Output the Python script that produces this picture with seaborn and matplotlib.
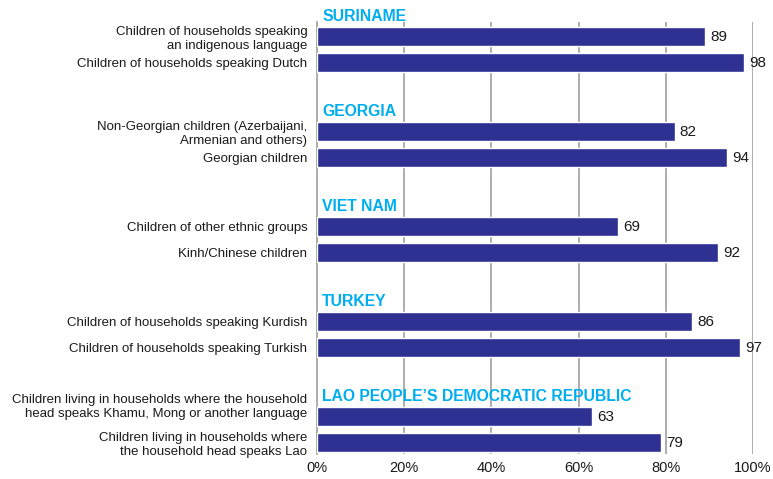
import matplotlib
matplotlib.use("Agg")
import matplotlib.pyplot as plt
import matplotlib.transforms as mtransforms
import pandas as pd
import seaborn as sns

# Countries (group headings) and the two population groups within each
countries = [
    "SURINAME",
    "GEORGIA",
    "VIET NAM",
    "TURKEY",
    "LAO PEOPLE\u2019S DEMOCRATIC REPUBLIC",
]
groups = [
    ["Children of households speaking\nan indigenous language",
     "Children of households speaking Dutch"],
    ["Non-Georgian children (Azerbaijani,\nArmenian and others)",
     "Georgian children"],
    ["Children of other ethnic groups",
     "Kinh/Chinese children"],
    ["Children of households speaking Kurdish",
     "Children of households speaking Turkish"],
    ["Children living in households where the household\nhead speaks Khamu, Mong or another language",
     "Children living in households where\nthe household head speaks Lao"],
]
values = [
    [89, 98],
    [82, 94],
    [69, 92],
    [86, 97],
    [63, 79],
]
x_ticks = [0, 20, 40, 60, 80, 100]
x_tick_labels = ["0%", "20%", "40%", "60%", "80%", "100%"]

BAR_COLOR = "#2e3192"
HEAD_COLOR = "#00aeef"
GRID_COLOR = "#a6a6a6"
TEXT_COLOR = "#1a1a1a"
GROUP_STEP = 3.654  # distance between the first bars of consecutive countries

# Build a long table with a numeric row position per bar
rows = []
for gi, (country, labs, vals) in enumerate(zip(countries, groups, values)):
    for bi, (lab, v) in enumerate(zip(labs, vals)):
        rows.append({"country": country, "label": lab, "value": v,
                     "pos": gi * GROUP_STEP + bi})
df = pd.DataFrame(rows)

sns.set_theme(style="white")
plt.rcParams["font.family"] = ["Liberation Sans", "DejaVu Sans"]

fig = plt.figure(figsize=(7.73, 4.79), dpi=100)
ax = fig.add_axes([317 / 773, 1 - 454 / 479, (753 - 317) / 773, (454 - 22) / 479])

sns.barplot(data=df, x="value", y="pos", orient="h", native_scale=True,
            color=BAR_COLOR, saturation=1, width=0.73, ax=ax, zorder=3)

ax.set_xlim(0, 100)
ax.set_ylim(df["pos"].max() + 0.44, df["pos"].min() - 0.56)

# Row labels
ax.set_yticks(df["pos"])
ax.set_yticklabels(df["label"], fontsize=9.55, color=TEXT_COLOR,
                   linespacing=1.25, ha="right")
ax.tick_params(axis="y", length=0, pad=7)

# The long two-line label beside the tall heading sits a little higher
for tl in ax.get_yticklabels():
    if tl.get_text().startswith("Children living in households where the household"):
        tl.set_transform(tl.get_transform() +
                         mtransforms.ScaledTranslation(0, 12 / 100, fig.dpi_scale_trans))

ax.set_xticks(x_ticks)
ax.set_xticklabels(x_tick_labels, fontsize=10.5, color=TEXT_COLOR)
ax.tick_params(axis="x", length=0, pad=5)
ax.set_xlabel("")
ax.set_ylabel("")

# Vertical gridlines and frame
ax.grid(False)
for t in x_ticks[1:]:
    ax.axvline(t, color=GRID_COLOR, lw=1.3, zorder=1)
for side in ["top", "right", "bottom"]:
    ax.spines[side].set_visible(False)
ax.spines["left"].set_color(GRID_COLOR)
ax.spines["left"].set_linewidth(1.3)

# Value labels at the end of each bar
for _, r in df.iterrows():
    ax.text(r["value"] + 1.2, r["pos"] + 0.02, f"{r['value']:.0f}",
            va="center", ha="left", fontsize=11, color=TEXT_COLOR, zorder=4)

# Country headings above each pair of bars
blend = mtransforms.blended_transform_factory(ax.transAxes, ax.transData)
for gi, country in enumerate(countries):
    first = gi * GROUP_STEP
    ax.text(0.012, first - 0.77, country, transform=blend,
            ha="left", va="center", fontsize=11.3, fontweight="bold",
            color=HEAD_COLOR, clip_on=False, zorder=5)

fig.savefig("out.png", dpi=100)
